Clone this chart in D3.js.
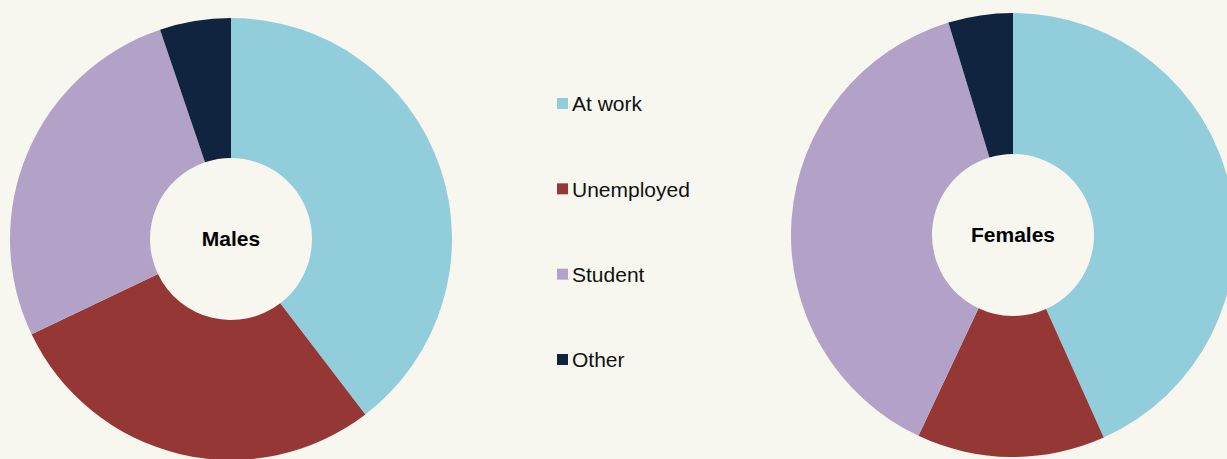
<!DOCTYPE html>
<html><head><meta charset="utf-8">
<script src="https://cdn.jsdelivr.net/npm/d3@7"></script>
<style>
html,body{margin:0;padding:0;background:#f7f7f0;overflow:hidden}
svg{display:block}
text{font-family:"Liberation Sans",Arial,sans-serif}
</style></head><body>
<div id="chart"></div>
<script>
const categories = ["At work", "Unemployed", "Student", "Other"];
const colors = ["#92cddc", "#953735", "#b3a2c7", "#10243f"];
const malesValues = [39.6, 28.3, 26.9, 5.2];
const femalesValues = [43.3, 13.7, 38.3, 4.7];
const groupLabels = ["Males", "Females"];

const W = 1227, H = 459;
const svg = d3.select("#chart").append("svg").attr("width", W).attr("height", H);
svg.append("rect").attr("width", W).attr("height", H).attr("fill", "#f7f7f0");

const color = d3.scaleOrdinal().domain(categories).range(colors);
const pie = d3.pie().sort(null).value(d => d.v);

const donuts = [
  {label: groupLabels[0], values: malesValues, cx: 231, cy: 239, R: 221, r: 81},
  {label: groupLabels[1], values: femalesValues, cx: 1013, cy: 235, R: 222, r: 81}
];

donuts.forEach(dn => {
  const g = svg.append("g").attr("transform", `translate(${dn.cx},${dn.cy})`);
  const arc = d3.arc().innerRadius(dn.r).outerRadius(dn.R);
  const data = categories.map((c, i) => ({c, v: dn.values[i]}));
  g.selectAll("path").data(pie(data)).join("path")
    .attr("d", arc).attr("fill", d => color(d.data.c));
  g.append("text").attr("text-anchor", "middle").attr("dy", "0.35em")
    .attr("font-size", 21).attr("font-weight", "bold").attr("fill", "#000")
    .text(dn.label);
});

const legendY = d3.scalePoint().domain(categories).range([104, 360]);
const lg = svg.append("g");
categories.forEach(c => {
  const y = legendY(c);
  lg.append("rect").attr("x", 557).attr("y", y - 6).attr("width", 11).attr("height", 11).attr("fill", color(c));
  lg.append("text").attr("x", 572).attr("y", y).attr("dy", "0.35em")
    .attr("font-size", 21).attr("fill", "#111").text(c);
});
</script>
</body></html>
